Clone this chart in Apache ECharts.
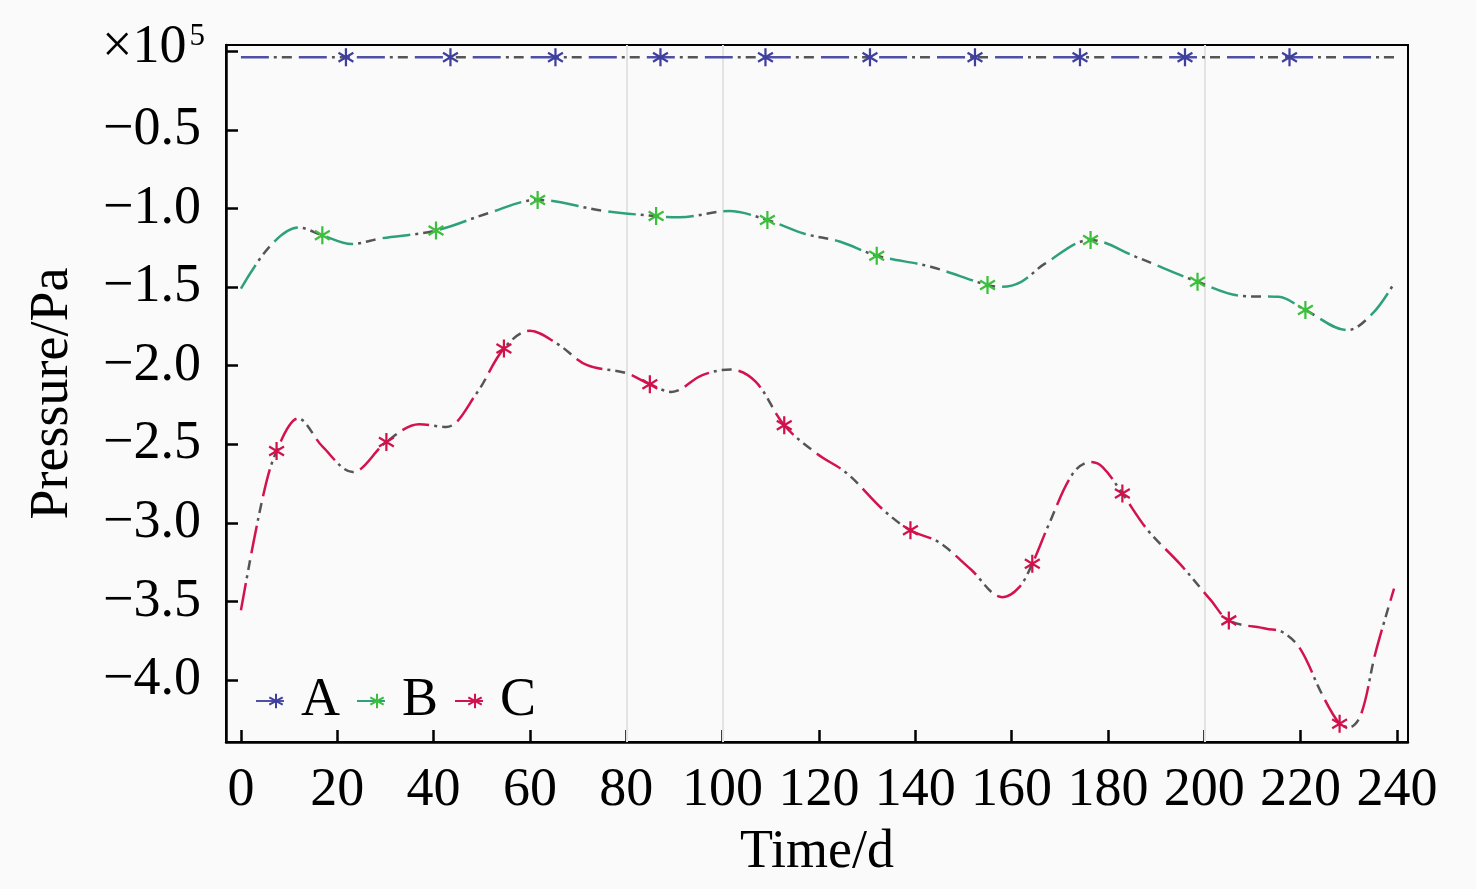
<!DOCTYPE html>
<html>
<head>
<meta charset="utf-8">
<script src="https://cdn.jsdelivr.net/npm/echarts@6/dist/echarts.min.js"></script>
<style>
  html, body { margin: 0; padding: 0; background: #fafafa; }
  #chart { width: 1476px; height: 889px; }
</style>
</head>
<body>
<div id="chart"></div>
<script>
let xTicks = [0, 20, 40, 60, 80, 100, 120, 140, 160, 180, 200, 220, 240];
let yTicks = [0, -0.5, -1.0, -1.5, -2.0, -2.5, -3.0, -3.5, -4.0];
let yLabels = [-0.5, -1.0, -1.5, -2.0, -2.5, -3.0, -3.5, -4.0];
let faintLines = [80, 100, 200];

// curve A, flat
let lineA = [[0, -0.037], [240, -0.037]];
let markA = [[21.8, -0.037], [43.5, -0.037], [65.3, -0.037], [87.1, -0.037], [108.9, -0.037],
  [130.6, -0.037], [152.4, -0.037], [174.2, -0.037], [196, -0.037], [217.7, -0.037]];

// curve B
let lineB = [[0, -1.51], [6, -1.24], [11.9, -1.12], [16.9, -1.17], [23, -1.225], [29, -1.19],
  [40.5, -1.14], [51.3, -1.03], [61.6, -0.945], [75.1, -1.014], [86.2, -1.048], [91, -1.056],
  [101.3, -1.016], [109.3, -1.073], [117, -1.16], [124.3, -1.21], [132, -1.30], [143.2, -1.37],
  [155, -1.487], [158, -1.498], [162, -1.466], [167, -1.349], [176.4, -1.20], [185.8, -1.307],
  [198.6, -1.466], [208, -1.557], [215.4, -1.562], [221, -1.646], [229.7, -1.774], [235, -1.666],
  [239.4, -1.476]];
let markB = [[16.9, -1.17], [40.5, -1.14], [61.6, -0.945], [86.2, -1.048], [109.3, -1.073],
  [132, -1.30], [155, -1.487], [176.4, -1.20], [198.6, -1.466], [221, -1.646]];

// curve C
let lineC = [[0, -3.557], [4.4, -2.857], [7.4, -2.543], [11.9, -2.336], [17, -2.517], [23.2, -2.677],
  [30.2, -2.485], [37, -2.373], [42.6, -2.39], [48.9, -2.177], [54.6, -1.89], [60, -1.778],
  [65.6, -1.859], [71.9, -1.997], [79.9, -2.046], [84.9, -2.118], [89.4, -2.167], [95.8, -2.06],
  [101.7, -2.024], [106.9, -2.103], [112.8, -2.379], [119.6, -2.56], [125.9, -2.687], [133.3, -2.916],
  [139, -3.048], [144.8, -3.122], [151.4, -3.292], [158.1, -3.473], [161.6, -3.409], [164.3, -3.26],
  [167.8, -3.005], [172.7, -2.687], [176.4, -2.613], [178.9, -2.645], [183, -2.814], [188.3, -3.048],
  [194.9, -3.26], [201.4, -3.494], [205.1, -3.621], [212.9, -3.674], [216.2, -3.695], [219.9, -3.801],
  [224.4, -4.088], [228.1, -4.279], [230.2, -4.30], [232.6, -4.215], [235.5, -3.833], [239.4, -3.419]];
let markC = [[7.4, -2.543], [30.2, -2.485], [54.6, -1.89], [84.9, -2.118], [112.8, -2.379],
  [139, -3.048], [164.3, -3.26], [183, -2.814], [205.1, -3.621], [228.1, -4.279]];

let star = 'path://M-1.3,-10L1.3,-10L1.3,10L-1.3,10Z' +
  'M8.01,6.13L-9.31,-3.87L-8.01,-6.13L9.31,3.87Z' +
  'M9.31,-3.87L-8.01,6.13L-9.31,3.87L8.01,-6.13Z';

let font = '"Liberation Serif", "Times New Roman", serif';
let gray = '#555555';

function curveSeries(name, color, markColor, line, marks) {
  return [
    {
      name: name + '_g',
      type: 'line',
      data: line,
      smooth: 0.35,
      symbol: 'none',
      silent: true,
      lineStyle: { color: gray, width: 2.5, type: [3, 5, 10, 40], dashOffset: 25 },
      z: 3
    },
    {
      name: name,
      type: 'line',
      data: line,
      smooth: 0.35,
      symbol: star,
      symbolSize: [16, 18],
      showSymbol: false,
      silent: true,
      itemStyle: { color: markColor },
      lineStyle: { color: color, width: 2.5, type: [28, 30] },
      z: 4
    },
    {
      name: name + '_m',
      type: 'scatter',
      data: marks,
      symbol: star,
      symbolSize: [16, 18],
      silent: true,
      itemStyle: { color: markColor, opacity: 1 },
      z: 5
    }
  ];
}

let chart = echarts.init(document.getElementById('chart'));

let series = [].concat(
  curveSeries('A', '#4f4fa6', '#3f3f9e', lineA, markA),
  curveSeries('B', '#2fa07c', '#3cbf3c', lineB, markB),
  curveSeries('C', '#d3134d', '#d0124c', lineC, markC)
);

series[0].markLine = {
  silent: true,
  symbol: 'none',
  label: { show: false },
  lineStyle: { color: '#e3e3e3', width: 2, type: 'solid' },
  data: faintLines.map(v => ({ xAxis: v })),
  z: 1
};

let option = {
  backgroundColor: '#fafafa',
  animation: false,
  grid: {
    left: 226,
    right: 68,
    top: 45,
    bottom: 147,
    show: true,
    borderColor: '#000',
    borderWidth: 2,
    backgroundColor: 'transparent'
  },
  legend: {
    data: ['A', 'B', 'C'],
    left: 250,
    top: 668,
    itemWidth: 40,
    itemHeight: 18,
    itemGap: 16,
    selectedMode: false,
    textStyle: { color: '#000', fontFamily: font, fontSize: 54, lineHeight: 56 }
  },
  xAxis: {
    type: 'value',
    min: -3.1,
    max: 242.3,
    name: 'Time/d',
    nameLocation: 'middle',
    nameGap: 84,
    nameTextStyle: { color: '#000', fontFamily: font, fontSize: 54 },
    axisLine: { show: true, onZero: false, lineStyle: { color: '#000', width: 2.5 } },
    axisTick: { show: true, inside: true, length: 12, customValues: xTicks, lineStyle: { color: '#000', width: 2.5 } },
    axisLabel: { customValues: xTicks, margin: 22, color: '#000', fontFamily: font, fontSize: 54 },
    splitLine: { show: false }
  },
  yAxis: {
    type: 'value',
    min: -4.395,
    max: 0.041,
    name: 'Pressure/Pa',
    nameLocation: 'middle',
    nameGap: 146,
    nameTextStyle: { color: '#000', fontFamily: font, fontSize: 54 },
    axisLine: { show: true, onZero: false, lineStyle: { color: '#000', width: 2.5 } },
    axisTick: { show: true, inside: true, length: 12, customValues: yTicks, lineStyle: { color: '#000', width: 2.5 } },
    axisLabel: {
      customValues: yLabels,
      margin: 25,
      color: '#000',
      fontFamily: font,
      fontSize: 54,
      formatter: v => v.toFixed(1).replace('-', '\u2212')
    },
    splitLine: { show: false }
  },
  graphic: [
    {
      type: 'text',
      left: 102,
      top: 21,
      style: {
        text: '\u00d710{s|5}',
        fill: '#000',
        font: '54px ' + font,
        rich: { s: { fontSize: 31, fontFamily: font, verticalAlign: 'top', padding: [0, 0, 18, 3] } }
      }
    }
  ],
  series: series
};

chart.setOption(option);
</script>
</body>
</html>
